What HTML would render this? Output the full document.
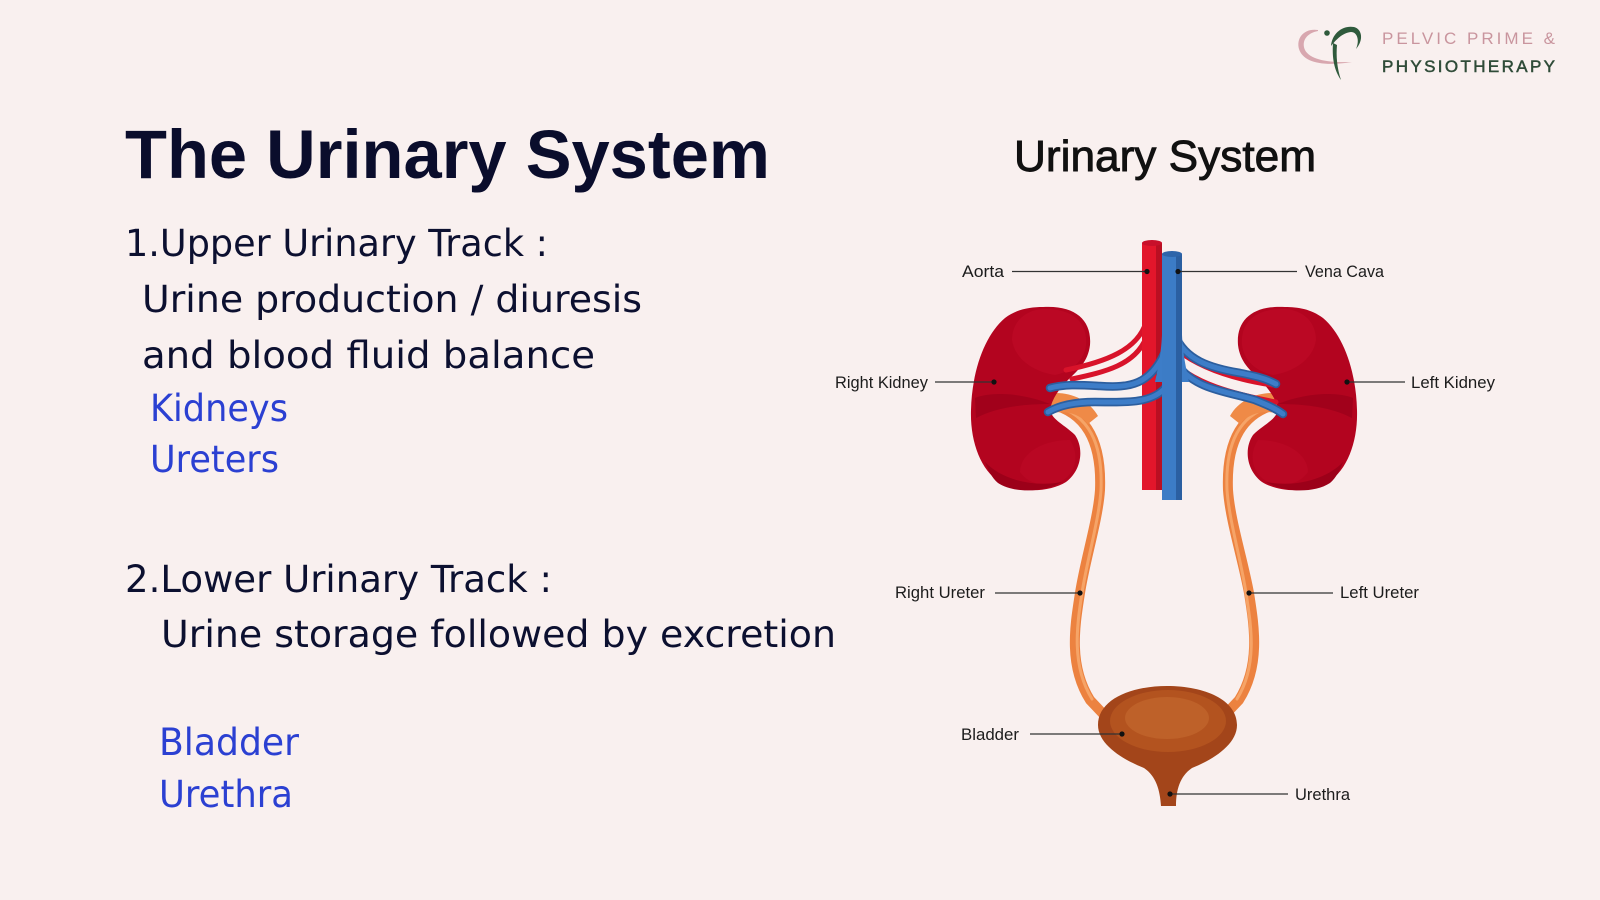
<!DOCTYPE html>
<html>
<head>
<meta charset="utf-8">
<style>
  html,body{margin:0;padding:0;background:#f9f0ef;}
  svg{display:block;}
  .lbl{font-family:"Liberation Sans",Arial,sans-serif;font-size:16.5px;fill:#1c1c1c;}
  .body{font-family:"DejaVu Sans","Liberation Sans",sans-serif;font-size:37px;fill:#0c1030;}
  .blue{font-family:"DejaVu Sans","Liberation Sans",sans-serif;font-size:37px;fill:#2b40d2;}
</style>
</head>
<body>
<svg width="1600" height="900" viewBox="0 0 1600 900" xmlns="http://www.w3.org/2000/svg">
  <rect x="0" y="0" width="1600" height="900" fill="#f9f0ef"/>

  <!-- Logo -->
  <g>
    <path d="M1318,30 C1304,28 1296,38 1299,49 C1303,62 1322,67 1352,62 C1330,63 1310,60 1305,50 C1301,41 1307,33 1318,31 Z" fill="#d8a7af"/>
    <circle cx="1327" cy="33" r="2.8" fill="#2f5a3c"/>
    <path d="M1331,46 C1332,33 1343,25 1354,27 C1362,29 1364,40 1356,49 C1360,40 1357,32 1351,32 C1342,33 1336,40 1331,46 Z" fill="#2f5a3c"/>
    <path d="M1333,43 C1332,58 1334,70 1341,80 C1337,68 1336,56 1337,45 Z" fill="#2f5a3c"/>
    <text x="1382" y="44" textLength="173" lengthAdjust="spacing" style="font-family:'Liberation Sans',sans-serif;font-size:17px;fill:#c9959e;">PELVIC PRIME &amp;</text>
    <text x="1382" y="72" textLength="173" lengthAdjust="spacing" style="font-family:'Liberation Sans',sans-serif;font-size:17px;fill:#2f4b38;stroke:#2f4b38;stroke-width:0.5;">PHYSIOTHERAPY</text>
  </g>

  <!-- Left text -->
  <text x="125" y="178" textLength="645" lengthAdjust="spacingAndGlyphs" style="font-family:'Liberation Sans',sans-serif;font-size:69px;font-weight:bold;fill:#0a0d2c;">The Urinary System</text>
  <text class="body" x="125" y="256" textLength="423" lengthAdjust="spacingAndGlyphs">1.Upper Urinary Track :</text>
  <text class="body" x="142" y="312" textLength="500" lengthAdjust="spacingAndGlyphs">Urine production / diuresis</text>
  <text class="body" x="142" y="368" textLength="453" lengthAdjust="spacingAndGlyphs">and blood fluid balance</text>
  <text class="blue" x="150" y="421" textLength="138" lengthAdjust="spacingAndGlyphs">Kidneys</text>
  <text class="blue" x="150" y="472" textLength="129" lengthAdjust="spacingAndGlyphs">Ureters</text>
  <text class="body" x="125" y="592" textLength="427" lengthAdjust="spacingAndGlyphs">2.Lower Urinary Track :</text>
  <text class="body" x="161" y="647" textLength="675" lengthAdjust="spacingAndGlyphs">Urine storage followed by excretion</text>
  <text class="blue" x="159" y="755" textLength="140" lengthAdjust="spacingAndGlyphs">Bladder</text>
  <text class="blue" x="159" y="807" textLength="134" lengthAdjust="spacingAndGlyphs">Urethra</text>

  <!-- Right title -->
  <text x="1014" y="171" textLength="302" lengthAdjust="spacingAndGlyphs" style="font-family:'Liberation Sans',sans-serif;font-size:44px;fill:#111;stroke:#111;stroke-width:0.9;">Urinary System</text>

  <!-- Ureters -->
  <g fill="none" stroke-linecap="round">
    <path d="M1050,404 C1085,412 1102,440 1100,490 C1098,520 1085,560 1080,593 C1075,625 1068,665 1090,700 L1106,717" stroke="#ec8240" stroke-width="10"/>
    <path d="M1056,406 C1088,415 1103,442 1101,490 C1099,520 1087,560 1082,593 C1077,625 1071,665 1092,699" stroke="#f6a467" stroke-width="3"/>
    <path d="M1278,404 C1243,412 1226,440 1228,490 C1230,520 1243,560 1249,593 C1254,625 1261,665 1239,700 L1223,717" stroke="#ec8240" stroke-width="10"/>
    <path d="M1272,406 C1240,415 1225,442 1227,490 C1229,520 1241,560 1246,593 C1251,625 1258,665 1237,699" stroke="#f6a467" stroke-width="3"/>
  </g>
  <path d="M1046,394 C1066,390 1088,398 1098,416 L1088,424 C1078,412 1062,410 1048,414 Z" fill="#ef8a47"/>
  <path d="M1282,394 C1262,390 1240,398 1230,416 L1240,424 C1250,412 1266,410 1280,414 Z" fill="#ef8a47"/>

  <!-- Kidneys -->
  <g id="kid">
    <path d="M1043,307 C1075,305 1092,320 1090,345 C1088,362 1078,370 1068,380 C1060,388 1052,398 1050,410 C1052,420 1065,425 1075,435 C1084,448 1082,470 1066,482 C1050,492 1020,494 1000,482 C980,470 970,440 971,410 C972,370 985,335 1005,318 C1017,309 1030,307 1043,307 Z" fill="#b3041f"/>
    <path d="M1043,309 C1072,308 1088,322 1086,345 C1084,362 1070,372 1055,375 C1035,372 1015,360 1012,340 C1012,322 1025,310 1043,309 Z" fill="#bb0824"/>
    <path d="M1070,440 C1080,455 1076,474 1060,482 C1045,488 1028,484 1020,472 C1020,455 1040,440 1070,440 Z" fill="#b90723"/>
    <path d="M975,398 C990,392 1020,392 1050,404 C1020,404 995,408 976,418 Z" fill="#a1011b"/>
    <path d="M985,462 C1000,478 1030,488 1062,482 C1045,492 1015,494 998,483 C992,478 988,470 985,462 Z" fill="#9c0019"/>
  </g>
  <g transform="translate(2328,0) scale(-1,1)">
    <path d="M1043,307 C1075,305 1092,320 1090,345 C1088,362 1078,370 1068,380 C1060,388 1052,398 1050,410 C1052,420 1065,425 1075,435 C1084,448 1082,470 1066,482 C1050,492 1020,494 1000,482 C980,470 970,440 971,410 C972,370 985,335 1005,318 C1017,309 1030,307 1043,307 Z" fill="#b3041f"/>
    <path d="M1043,309 C1072,308 1088,322 1086,345 C1084,362 1070,372 1055,375 C1035,372 1015,360 1012,340 C1012,322 1025,310 1043,309 Z" fill="#bb0824"/>
    <path d="M1070,440 C1080,455 1076,474 1060,482 C1045,488 1028,484 1020,472 C1020,455 1040,440 1070,440 Z" fill="#b90723"/>
    <path d="M975,398 C990,392 1020,392 1050,404 C1020,404 995,408 976,418 Z" fill="#a1011b"/>
    <path d="M985,462 C1000,478 1030,488 1062,482 C1045,492 1015,494 998,483 C992,478 988,470 985,462 Z" fill="#9c0019"/>
  </g>

  <!-- Arteries -->
  <g fill="none" stroke="#d8132a" stroke-width="5" stroke-linecap="round">
    <path d="M1146,322 C1138,350 1105,362 1066,370"/>
    <path d="M1146,338 C1135,365 1105,372 1072,379"/>
    <path d="M1158,330 C1180,362 1225,378 1272,385"/>
    <path d="M1158,345 C1182,382 1232,394 1276,402"/>
  </g>

  <!-- Aorta -->
  <rect x="1142" y="243" width="20" height="247" fill="#e2162b"/>
  <rect x="1156" y="243" width="6" height="247" fill="#b90f22"/>
  <ellipse cx="1152" cy="243" rx="10" ry="3" fill="#c8102a"/>

  <!-- Veins -->
  <g fill="none" stroke-linecap="round">
    <path d="M1165,352 C1150,385 1130,388 1100,386 C1080,385 1065,384 1050,388" stroke="#2c5e9e" stroke-width="8.5"/>
    <path d="M1165,352 C1150,385 1130,388 1100,386 C1080,385 1065,384 1050,388" stroke="#3d7dc8" stroke-width="5"/>
    <path d="M1165,388 C1150,405 1120,402 1095,402 C1075,402 1060,405 1048,412" stroke="#2c5e9e" stroke-width="8.5"/>
    <path d="M1165,388 C1150,405 1120,402 1095,402 C1075,402 1060,405 1048,412" stroke="#3d7dc8" stroke-width="5"/>
    <path d="M1175,335 C1185,360 1210,368 1240,373 C1255,376 1265,378 1276,384" stroke="#2c5e9e" stroke-width="8.5"/>
    <path d="M1175,335 C1185,360 1210,368 1240,373 C1255,376 1265,378 1276,384" stroke="#3d7dc8" stroke-width="5"/>
    <path d="M1178,365 C1195,390 1230,392 1255,400 C1265,404 1275,408 1283,414" stroke="#2c5e9e" stroke-width="8.5"/>
    <path d="M1178,365 C1195,390 1230,392 1255,400 C1265,404 1275,408 1283,414" stroke="#3d7dc8" stroke-width="5"/>
  </g>

  <!-- Vena cava -->
  <path d="M1162,335 C1161,355 1158,368 1155,382 L1189,382 C1186,368 1183,355 1182,335 Z" fill="#3d7dc8"/>
  <rect x="1162" y="254" width="20" height="246" fill="#3c7cc6"/>
  <rect x="1176" y="254" width="6" height="246" fill="#2b5fa1"/>
  <ellipse cx="1172" cy="254" rx="10" ry="3" fill="#2e65aa"/>

  <!-- Bladder -->
  <path d="M1098,725 C1098,700 1130,686 1167,686 C1205,686 1237,700 1237,725 C1237,745 1212,760 1192,768 C1180,776 1176,790 1176,806 L1161,806 C1160,790 1156,776 1144,768 C1124,760 1098,745 1098,725 Z" fill="#a3451a"/>
  <ellipse cx="1168" cy="721" rx="58" ry="31" fill="#b3531f"/>
  <ellipse cx="1167" cy="718" rx="42" ry="21" fill="#be6129"/>

  <!-- Leader lines -->
  <g stroke="#333" stroke-width="1.3">
    <line x1="1012" y1="271.5" x2="1147" y2="271.5"/>
    <line x1="1178" y1="271.5" x2="1297" y2="271.5"/>
    <line x1="935" y1="382" x2="994" y2="382"/>
    <line x1="1347" y1="382" x2="1405" y2="382"/>
    <line x1="995" y1="593" x2="1080" y2="593"/>
    <line x1="1249" y1="593" x2="1333" y2="593"/>
    <line x1="1030" y1="734" x2="1122" y2="734"/>
    <line x1="1170" y1="794" x2="1288" y2="794"/>
  </g>
  <g fill="#111">
    <circle cx="1147" cy="271.5" r="2.6"/>
    <circle cx="1178" cy="271.5" r="2.6"/>
    <circle cx="994" cy="382" r="2.6"/>
    <circle cx="1347" cy="382" r="2.6"/>
    <circle cx="1080" cy="593" r="2.6"/>
    <circle cx="1249" cy="593" r="2.6"/>
    <circle cx="1122" cy="734" r="2.6"/>
    <circle cx="1170" cy="794" r="2.6"/>
  </g>

  <!-- Labels -->
  <text class="lbl" x="962" y="277" textLength="42" lengthAdjust="spacingAndGlyphs">Aorta</text>
  <text class="lbl" x="1305" y="277" textLength="79" lengthAdjust="spacingAndGlyphs">Vena Cava</text>
  <text class="lbl" x="835" y="388" textLength="93" lengthAdjust="spacingAndGlyphs">Right Kidney</text>
  <text class="lbl" x="1411" y="388" textLength="84" lengthAdjust="spacingAndGlyphs">Left Kidney</text>
  <text class="lbl" x="895" y="598" textLength="90" lengthAdjust="spacingAndGlyphs">Right Ureter</text>
  <text class="lbl" x="1340" y="598" textLength="79" lengthAdjust="spacingAndGlyphs">Left Ureter</text>
  <text class="lbl" x="961" y="740" textLength="58" lengthAdjust="spacingAndGlyphs">Bladder</text>
  <text class="lbl" x="1295" y="800" textLength="55" lengthAdjust="spacingAndGlyphs">Urethra</text>
</svg>
</body>
</html>
